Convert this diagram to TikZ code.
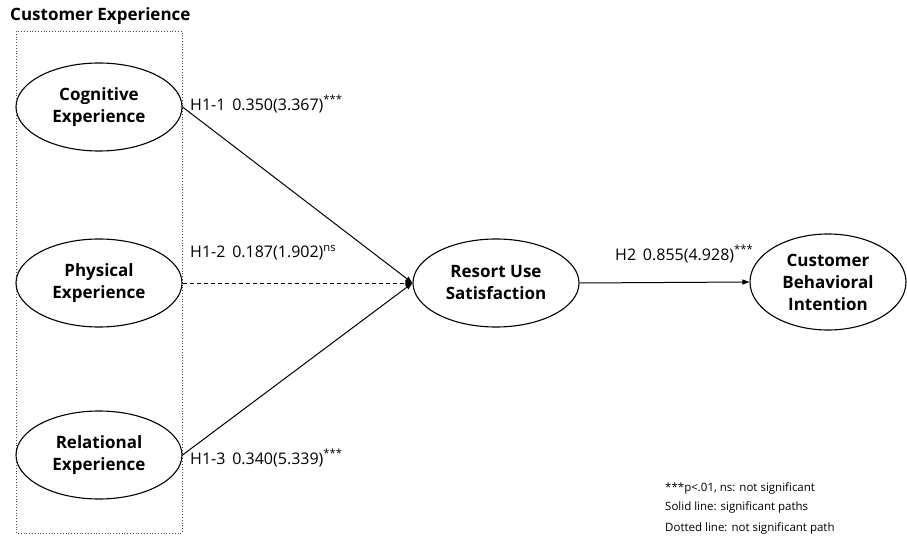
\documentclass[tikz,border=0pt]{standalone}
\usepackage{fontspec}
\setmainfont{Open Sans}
\usetikzlibrary{arrows.meta,shapes.geometric,positioning}
\tikzset{
  construct/.style={ellipse,draw=black,line width=1.1pt,inner sep=0pt,
    minimum width=166pt,minimum height=88pt,align=center,
    font=\fontsize{17}{22}\selectfont\bfseries},
  pathsig/.style={-{Triangle[length=7pt,width=5pt]},draw=black,line width=1pt},
  pathns/.style={pathsig,dash pattern=on 4pt off 3pt},
  group/.style={draw=black!70,dotted,line width=.8pt},
  pathlabel/.style={font=\fontsize{16}{18}\selectfont,anchor=west,inner sep=0pt},
  notelabel/.style={font=\fontsize{11.5}{13}\selectfont,anchor=west,inner sep=0pt}
}
\newcommand{\sig}{\textsuperscript{***}}
\begin{document}
\begin{tikzpicture}[x=1pt,y=-1pt]
  \useasboundingbox (0,0) rectangle (907,537);
  % exogenous block
  \node[anchor=west,inner sep=0pt,font=\fontsize{17}{19}\selectfont\bfseries]
    (title) at (10,16) {Customer Experience};
  \draw[group] (16,31) rectangle (182,533);
  \node[construct] (cog) at (99,107) {Cognitive\\Experience};
  \node[construct] (phy) at (99,283) {Physical\\Experience};
  \node[construct] (rel) at (99,455) {Relational\\Experience};
  % endogenous constructs
  \node[construct] (sat) at (496,283) {Resort Use\\Satisfaction};
  \node[construct,minimum width=156pt,minimum height=96pt]
    (bi) at (828,282) {Customer\\Behavioral\\Intention};
  % structural paths
  \draw[pathsig] (cog.east) -- (sat.west);
  \draw[pathns] (phy.east) -- (sat.west);
  \draw[pathsig] (rel.east) -- (sat.west);
  \draw[pathsig] (sat.east) -- (bi.west);
  \node[pathlabel] (h11) at (190,104) {H1-1\, 0.350(3.367)\sig};
  \node[pathlabel] (h12) at (190,253) {H1-2\, 0.187(1.902)\textsuperscript{ns}};
  \node[pathlabel] (h13) at (190,458) {H1-3\, 0.340(5.339)\sig};
  \node[pathlabel] (h2) at (615,254) {H2\, 0.855(4.928)\sig};
  % notes
  \node[notelabel] (n1) at (665,488) {***p<.01, ns: not significant};
  \node[notelabel] (n2) at (665,507) {Solid line: significant paths};
  \node[notelabel] (n3) at (665,528) {Dotted line: not significant path};
\end{tikzpicture}
\end{document}
